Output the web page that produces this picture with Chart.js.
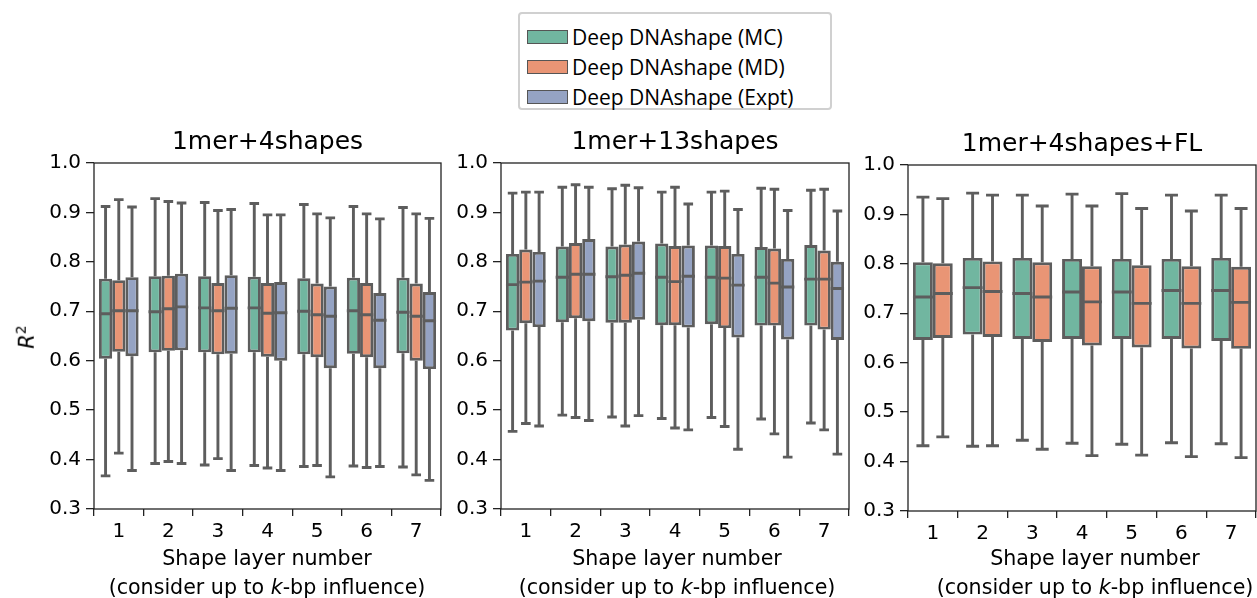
<!DOCTYPE html>
<html lang="en">
<head>
<meta charset="UTF-8">
<title>Deep DNAshape R2 by shape layer</title>
<script src="https://cdn.jsdelivr.net/npm/chart.js"></script>
<style>
  body { margin: 0; background: #fff; }
  #wrap { position: relative; width: 1257px; height: 598px; overflow: hidden; font-family: 'DejaVu Sans', sans-serif; color: #000; }
  canvas { position: absolute; }
  .xl { position: absolute; width: 420px; text-align: center; font-size: 20.6px; line-height: 24px; white-space: nowrap; }
  #ylab { position: absolute; left: 15px; top: 325px; font-size: 21px; line-height: 24px; transform: rotate(-90deg); transform-origin: center; }
  #ylab sup { font-size: 14px; font-style: normal; vertical-align: 8px; line-height: 0; }
  #legend { position: absolute; left: 518px; top: 12px; width: 314px; height: 98px; border: 2px solid #d0d0d0; border-radius: 4px; padding-top: 8px; box-sizing: border-box; }
  #legend .row { display: flex; align-items: center; height: 30px; font-family: 'Open Sans', sans-serif; font-size: 21px; }
  #legend .sw { width: 39px; height: 12px; border: 1.5px solid #555; margin: 0 4px 0 7px; }
</style>
</head>
<body>
<div id="wrap">
  <div id="legend"></div>
  <canvas id="c1" width="450" height="478" style="left:0;top:120px"></canvas>
  <canvas id="c2" width="410" height="478" style="left:450px;top:120px"></canvas>
  <canvas id="c3" width="397" height="478" style="left:860px;top:122px"></canvas>
  <div id="ylab"><i>R</i><sup>2</sup></div>
</div>

<script>
    // shape layer number k
    const layers = ['1', '2', '3', '4', '5', '6', '7'];
    const seriesNames = ['Deep DNAshape (MC)', 'Deep DNAshape (MD)', 'Deep DNAshape (Expt)'];
    const panelTitles = ['1mer+4shapes', '1mer+13shapes', '1mer+4shapes+FL'];

    // per layer: [lower whisker, Q1, median, Q3, upper whisker]
    const shapes4MC = [
        [0.367, 0.604, 0.695, 0.766, 0.912], [0.392, 0.617, 0.699, 0.771, 0.928],
        [0.389, 0.617, 0.707, 0.771, 0.920], [0.388, 0.617, 0.707, 0.770, 0.918],
        [0.386, 0.613, 0.700, 0.767, 0.916], [0.387, 0.614, 0.701, 0.768, 0.912],
        [0.385, 0.615, 0.698, 0.768, 0.910]];
    const shapes4MD = [
        [0.413, 0.618, 0.701, 0.763, 0.926], [0.396, 0.620, 0.705, 0.772, 0.922],
        [0.402, 0.613, 0.701, 0.757, 0.904], [0.383, 0.608, 0.696, 0.757, 0.895],
        [0.388, 0.607, 0.693, 0.756, 0.897], [0.384, 0.607, 0.693, 0.757, 0.897],
        [0.369, 0.600, 0.690, 0.756, 0.897]];
    const shapes4Expt = [
        [0.378, 0.609, 0.701, 0.769, 0.911], [0.392, 0.621, 0.709, 0.776, 0.919],
        [0.378, 0.614, 0.706, 0.773, 0.906], [0.378, 0.600, 0.697, 0.759, 0.895],
        [0.365, 0.585, 0.690, 0.750, 0.889], [0.386, 0.585, 0.682, 0.737, 0.887],
        [0.358, 0.583, 0.681, 0.739, 0.888]];

    const shapes13MC = [
        [0.457, 0.661, 0.754, 0.816, 0.939], [0.490, 0.678, 0.769, 0.831, 0.951],
        [0.486, 0.677, 0.770, 0.831, 0.948], [0.483, 0.672, 0.769, 0.837, 0.941],
        [0.485, 0.674, 0.769, 0.833, 0.941], [0.482, 0.671, 0.769, 0.830, 0.949],
        [0.474, 0.671, 0.765, 0.834, 0.945]];
    const shapes13MD = [
        [0.473, 0.676, 0.759, 0.825, 0.941], [0.485, 0.686, 0.775, 0.838, 0.956],
        [0.468, 0.677, 0.773, 0.835, 0.955], [0.464, 0.672, 0.760, 0.832, 0.951],
        [0.467, 0.666, 0.767, 0.832, 0.943], [0.452, 0.671, 0.757, 0.827, 0.947],
        [0.460, 0.663, 0.765, 0.823, 0.947]];
    const shapes13Expt = [
        [0.468, 0.668, 0.761, 0.820, 0.941], [0.479, 0.680, 0.775, 0.846, 0.951],
        [0.489, 0.683, 0.777, 0.841, 0.950], [0.460, 0.667, 0.771, 0.833, 0.917],
        [0.421, 0.647, 0.753, 0.816, 0.906], [0.405, 0.643, 0.749, 0.806, 0.904],
        [0.411, 0.642, 0.746, 0.800, 0.903]];

    const shapesFLMC = [
        [0.432, 0.646, 0.733, 0.803, 0.935], [0.431, 0.657, 0.752, 0.812, 0.943],
        [0.443, 0.648, 0.740, 0.812, 0.939], [0.437, 0.648, 0.743, 0.810, 0.941],
        [0.435, 0.648, 0.743, 0.810, 0.942], [0.438, 0.648, 0.746, 0.810, 0.939],
        [0.436, 0.644, 0.746, 0.812, 0.939]];
    const shapesFLMD = [
        [0.450, 0.650, 0.740, 0.801, 0.932], [0.432, 0.652, 0.744, 0.805, 0.939],
        [0.425, 0.642, 0.733, 0.803, 0.917], [0.412, 0.635, 0.723, 0.795, 0.917],
        [0.413, 0.631, 0.720, 0.797, 0.912], [0.410, 0.629, 0.720, 0.795, 0.907],
        [0.408, 0.628, 0.722, 0.794, 0.912]];

    const yTicks = [0.3, 0.4, 0.5, 0.6, 0.7, 0.8, 0.9, 1.0];

    const colors = ['#71b6a0', '#e99575', '#95a3c3'];
    const edge = '#5d5d5d';
    const axisColor = '#222';
    const lw = 2.9;

    // whiskers, caps and medians on top of the floating bars
    const whiskers = {
        id: 'whiskers',
        afterDatasetsDraw(chart) {
            const ctx = chart.ctx;
            const y = chart.scales.y;
            ctx.save();
            ctx.strokeStyle = edge;
            ctx.lineWidth = lw;
            ctx.lineCap = 'butt';
            chart.data.datasets.forEach((ds, di) => {
                chart.getDatasetMeta(di).data.forEach((bar, i) => {
                    const [lo, q1, med, q3, hi] = ds.stats[i];
                    const x = bar.x, half = bar.width / 2, cap = bar.width / 4 + 1.5;
                    ctx.beginPath();
                    ctx.moveTo(x, y.getPixelForValue(q3));
                    ctx.lineTo(x, y.getPixelForValue(hi));
                    ctx.moveTo(x, y.getPixelForValue(q1));
                    ctx.lineTo(x, y.getPixelForValue(lo));
                    ctx.moveTo(x - cap, y.getPixelForValue(hi));
                    ctx.lineTo(x + cap, y.getPixelForValue(hi));
                    ctx.moveTo(x - cap, y.getPixelForValue(lo));
                    ctx.lineTo(x + cap, y.getPixelForValue(lo));
                    ctx.moveTo(x - half, y.getPixelForValue(med));
                    ctx.lineTo(x + half, y.getPixelForValue(med));
                    ctx.stroke();
                });
            });
            ctx.restore();
        }
    };

    const frame = {
        id: 'frame',
        afterDraw(chart) {
            const a = chart.chartArea, ctx = chart.ctx;
            ctx.save();
            ctx.strokeStyle = axisColor;
            ctx.lineWidth = 1.3;
            ctx.strokeRect(a.left, a.top, a.right - a.left, a.bottom - a.top);
            ctx.restore();
        }
    };

    function makePanel(id, title, series, yWidth, rightPad) {
        const datasets = series.map((stats, si) => ({
            label: seriesNames[si],
            data: stats.map(b => [b[1], b[3]]),
            stats: stats,
            backgroundColor: colors[si],
            borderColor: edge,
            borderWidth: lw,
            borderSkipped: false,
            categoryPercentage: 0.8,
            barPercentage: 1.0
        }));
        new Chart(document.getElementById(id), {
            type: 'bar',
            data: { labels: layers, datasets: datasets },
            options: {
                responsive: false,
                animation: false,
                layout: { padding: { left: 0, right: rightPad, top: 0, bottom: 0 } },
                plugins: {
                    legend: { display: false },
                    tooltip: { enabled: false },
                    title: {
                        display: true,
                        text: title,
                        fullSize: false,
                        color: '#000',
                        font: { family: 'DejaVu Sans', size: 25, weight: 'normal' },
                        padding: { top: 7, bottom: 6 }
                    }
                },
                scales: {
                    x: {
                        afterFit: s => { s.height = 89; },
                        grid: { display: true, drawOnChartArea: false, tickLength: 7, color: axisColor, lineWidth: 1.3 },
                        border: { display: false },
                        ticks: { color: '#000', padding: 4, font: { family: 'DejaVu Sans', size: 20 } }
                    },
                    y: {
                        min: 0.3,
                        max: 1.0,
                        afterFit: s => { s.width = yWidth; },
                        afterBuildTicks: s => { s.ticks = yTicks.map(v => ({ value: v })); },
                        grid: { display: true, drawOnChartArea: false, tickLength: 8, color: axisColor, lineWidth: 1.3 },
                        border: { display: false },
                        ticks: {
                            color: '#000',
                            padding: 5,
                            font: { family: 'DejaVu Sans', size: 20 },
                            callback: v => Number(v).toFixed(1)
                        }
                    }
                }
            },
            plugins: [whiskers, frame]
        });
    }

    makePanel('c1', panelTitles[0], [shapes4MC, shapes4MD, shapes4Expt], 94, 9);
    makePanel('c2', panelTitles[1], [shapes13MC, shapes13MD, shapes13Expt], 51, 11);
    makePanel('c3', panelTitles[2], [shapesFLMC, shapesFLMD], 48, 1);

    // legend
    const legend = document.getElementById('legend');
    seriesNames.forEach((name, i) => {
        const row = document.createElement('div');
        row.className = 'row';
        row.innerHTML = '<span class="sw" style="background:' + colors[i] + '"></span>' + name;
        legend.appendChild(row);
    });

    // x-axis labels under each panel
    const wrap = document.getElementById('wrap');
    [267, 677, 1095].forEach(cx => {
        const a = document.createElement('div');
        a.className = 'xl';
        a.style.left = (cx - 210) + 'px';
        a.style.top = '546px';
        a.textContent = 'Shape layer number';
        const b = document.createElement('div');
        b.className = 'xl';
        b.style.left = (cx - 210) + 'px';
        b.style.top = '575px';
        b.innerHTML = '(consider up to <i>k</i>-bp influence)';
        wrap.appendChild(a);
        wrap.appendChild(b);
    });
</script>
</body>
</html>
